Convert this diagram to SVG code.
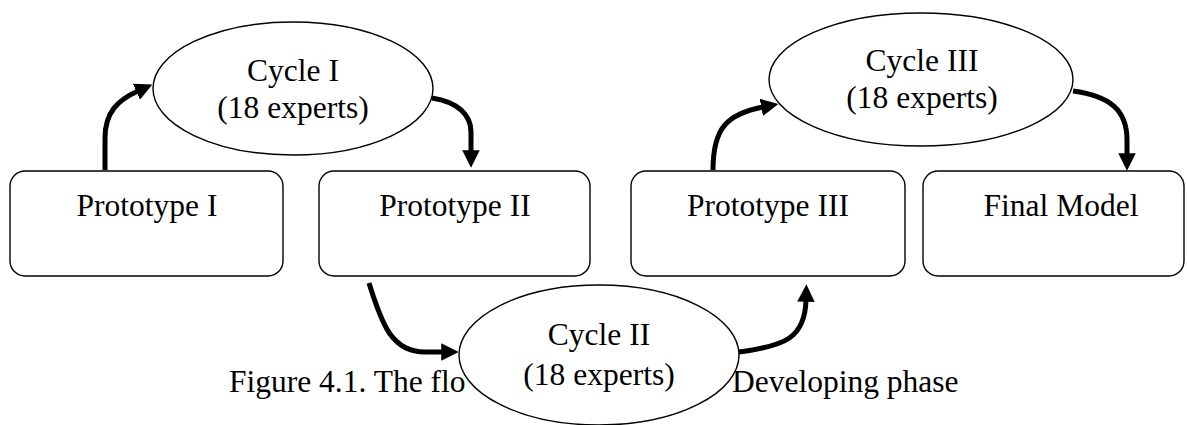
<svg xmlns="http://www.w3.org/2000/svg" width="1187" height="425" viewBox="0 0 1187 425">
<style>
.box{fill:#fff;stroke:#000;stroke-width:1.4}
.ell{fill:#fff;stroke:#000;stroke-width:1.4}
.t{font-family:"Liberation Serif","Times New Roman",serif;font-size:31.5px;fill:#000;text-anchor:middle}
.cap{font-family:"Liberation Serif","Times New Roman",serif;font-size:31.5px;fill:#000}
.arr{fill:none;stroke:#000;stroke-width:5;marker-end:url(#ah)}
</style>
<defs>
<marker id="ah" viewBox="0 0 10 10" refX="1" refY="5" markerWidth="3.5" markerHeight="3.5" orient="auto" markerUnits="strokeWidth">
<path d="M0,0 L10,5 L0,10 z" fill="#000"/>
</marker>
</defs>
<rect width="1187" height="425" fill="#fff"/>
<g id="caption">
<text class="cap" x="229" y="392">Figure 4.1. The flo</text>
<text class="cap" x="732" y="392">Developing phase</text>
</g>
<g id="connectors">
<path class="arr" d="M105,170 L105,138 C105,112 118,100 138,91"/>
<path class="arr" d="M432,98 C458,102 471,115 471,132 L471,152"/>
<path class="arr" d="M369,283 C382,325 392,352 425,352 L443,352"/>
<path class="arr" d="M739,352 C785,346 805,338 806,300"/>
<path class="arr" d="M713,170 C713,128 727,114 763,107"/>
<path class="arr" d="M1073,91 C1110,96 1127,110 1127,140 L1127,155"/>
</g>
<g id="prototype1">
<rect class="box" x="10" y="171" width="273" height="105" rx="15"/>
<text class="t" x="147" y="216">Prototype I</text>
</g>
<g id="prototype2">
<rect class="box" x="319" y="171" width="271" height="105" rx="15"/>
<text class="t" x="455" y="216">Prototype II</text>
</g>
<g id="prototype3">
<rect class="box" x="631" y="171" width="274" height="105" rx="15"/>
<text class="t" x="768" y="216">Prototype III</text>
</g>
<g id="finalmodel">
<rect class="box" x="923" y="171" width="261" height="105" rx="15"/>
<text class="t" x="1061" y="216">Final Model</text>
</g>
<g id="cycle1">
<ellipse class="ell" cx="293" cy="88.5" rx="140" ry="66.5"/>
<text class="t" x="293" y="81">Cycle I</text>
<text class="t" x="293" y="118">(18 experts)</text>
</g>
<g id="cycle3">
<ellipse class="ell" cx="921" cy="79.5" rx="152" ry="66.5"/>
<text class="t" x="922" y="71">Cycle III</text>
<text class="t" x="922" y="108">(18 experts)</text>
</g>
<g id="cycle2">
<ellipse class="ell" cx="599" cy="355" rx="140" ry="70"/>
<text class="t" x="599" y="345">Cycle II</text>
<text class="t" x="599" y="385">(18 experts)</text>
</g>
</svg>
